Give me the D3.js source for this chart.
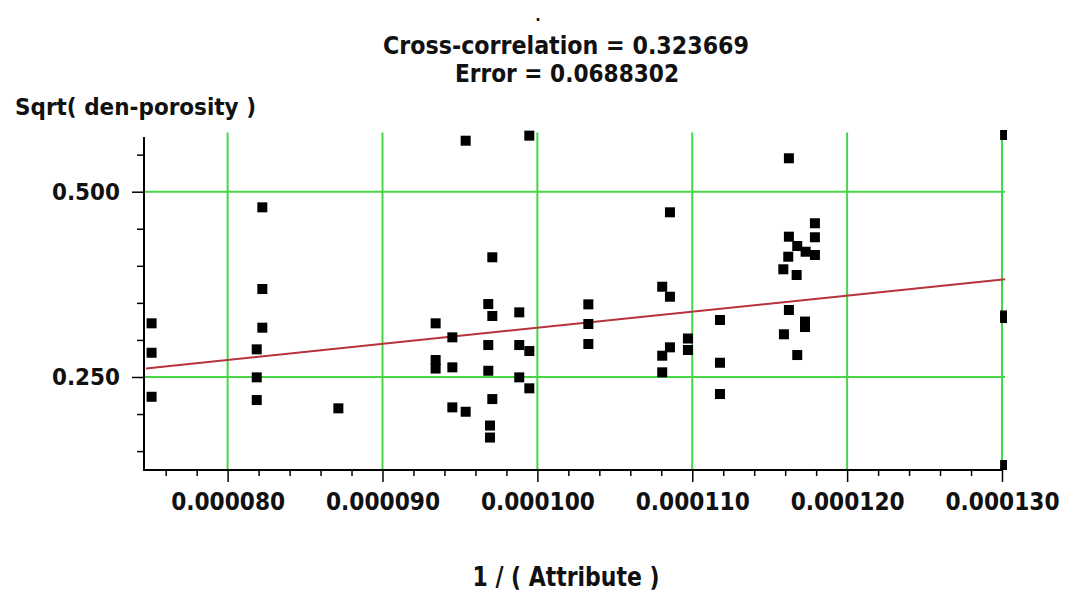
<!DOCTYPE html>
<html>
<head>
<meta charset="utf-8">
<script src="https://cdn.jsdelivr.net/npm/d3@7"></script>
<style>
  html, body { margin: 0; padding: 0; background: #fff; }
  svg { display: block; }
</style>
</head>
<body>
<script>
// ---------- DATA ----------
const titleLines = ["Cross-correlation = 0.323669", "Error = 0.0688302"];
const xAxisTitle = "1 / ( Attribute )";
const yAxisTitle = "Sqrt( den-porosity )";

const xMajorTicks = [0.000080, 0.000090, 0.000100, 0.000110, 0.000120, 0.000130];
const xTickLabels = ["0.000080", "0.000090", "0.000100", "0.000110", "0.000120", "0.000130"];
const xMinorTicks = [0.000076, 0.000078, 0.000082, 0.000084, 0.000086, 0.000088,
  0.000092, 0.000094, 0.000096, 0.000098, 0.000102, 0.000104, 0.000106, 0.000108,
  0.000112, 0.000114, 0.000116, 0.000118, 0.000122, 0.000124, 0.000126, 0.000128];
const yMajorTicks = [0.25, 0.50];
const yTickLabels = ["0.250", "0.500"];
const yMinorTicks = [0.15, 0.20, 0.30, 0.35, 0.40, 0.45, 0.55];

// scatter points: 1/(Attribute) and Sqrt(den-porosity)
const xValues = [
  75.09e-6, 75.09e-6, 75.09e-6,
  81.88e-6, 81.88e-6, 81.88e-6,
  82.24e-6, 82.24e-6, 82.24e-6,
  87.15e-6,
  93.43e-6, 93.43e-6, 93.43e-6,
  94.51e-6, 94.51e-6, 94.51e-6,
  95.37e-6, 95.37e-6,
  96.83e-6, 96.83e-6, 96.83e-6,
  97.09e-6, 97.09e-6, 97.09e-6,
  96.94e-6, 96.94e-6,
  98.83e-6, 98.83e-6, 98.83e-6,
  99.48e-6, 99.48e-6, 99.48e-6,
  103.29e-6, 103.29e-6, 103.29e-6,
  108.06e-6, 108.06e-6, 108.06e-6,
  108.56e-6, 108.56e-6, 108.56e-6,
  109.72e-6, 109.72e-6,
  111.79e-6, 111.79e-6, 111.79e-6,
  116.24e-6, 116.24e-6, 116.24e-6, 116.20e-6,
  117.92e-6, 117.92e-6, 117.92e-6,
  116.78e-6, 116.78e-6,
  117.32e-6, 115.88e-6, 116.74e-6,
  117.28e-6, 117.28e-6, 115.92e-6,
  130.20e-6, 130.20e-6, 130.20e-6, 130.20e-6
];
const yValues = [
  0.3224, 0.2827, 0.2233,
  0.2873, 0.2495, 0.2189,
  0.4789, 0.3687, 0.3165,
  0.2077,
  0.3224, 0.2729, 0.2614,
  0.3035, 0.2630, 0.2090,
  0.2031, 0.5688,
  0.3484, 0.2931, 0.2584,
  0.3323, 0.4115, 0.2202,
  0.1845, 0.1683,
  0.3372, 0.2931, 0.2495,
  0.2850, 0.2347, 0.5756,
  0.3480, 0.3215, 0.2945,
  0.3718, 0.2787, 0.2563,
  0.3583, 0.4722, 0.2900,
  0.3019, 0.2864,
  0.3269, 0.2692, 0.2270,
  0.5451, 0.4393, 0.3404, 0.4123,
  0.4574, 0.4385, 0.4146,
  0.4267, 0.2796,
  0.4190, 0.3953, 0.3876,
  0.3248, 0.3174, 0.3076,
  0.5765, 0.3330, 0.3295, 0.1312
];

// regression line end points
const fitX = [74.6e-6, 130.2e-6];
const fitY = [0.2613, 0.3820];

// ---------- LAYOUT ----------
const W = 1066, H = 591;
const svg = d3.select("body").append("svg").attr("width", W).attr("height", H);

const x = d3.scaleLinear().domain([0.0000746, 0.000130]).range([144, 1002]);
const y = d3.scaleLinear().domain([0.1245, 0.58]).range([470, 132.4]);

const green = "#46d646";
const condensed = "'Liberation Sans Narrow', 'DejaVu Sans Condensed', 'Arial Narrow', sans-serif";

// clip for plot area
svg.append("defs").append("clipPath").attr("id", "plotClip")
  .append("rect").attr("x", 146).attr("y", 130).attr("width", 861).attr("height", 340);

// gridlines
const grid = svg.append("g");
grid.selectAll("line.v").data(xMajorTicks).enter().append("line")
  .attr("x1", d => x(d)).attr("x2", d => x(d))
  .attr("y1", y(0.58)).attr("y2", y(0.1245))
  .attr("stroke", green).attr("stroke-width", 2);
grid.selectAll("line.h").data(yMajorTicks).enter().append("line")
  .attr("x1", x(0.0000746)).attr("x2", x(0.000130) + 3)
  .attr("y1", d => y(d)).attr("y2", d => y(d))
  .attr("stroke", green).attr("stroke-width", 2);

// regression line
svg.append("line")
  .attr("clip-path", "url(#plotClip)")
  .attr("x1", x(fitX[0])).attr("y1", y(fitY[0]))
  .attr("x2", x(fitX[1])).attr("y2", y(fitY[1]))
  .attr("stroke", "#b8323c").attr("stroke-width", 2);

// points
const pts = xValues.map((v, i) => [v, yValues[i]]);
svg.append("g").attr("clip-path", "url(#plotClip)")
  .selectAll("rect").data(pts).enter().append("rect")
  .attr("x", d => x(d[0]) - 5).attr("y", d => y(d[1]) - 5)
  .attr("width", 10).attr("height", 10)
  .attr("fill", "#000");

// ---------- AXES ----------
const xMinorAxis = d3.axisBottom(x).tickValues(xMinorTicks).tickSize(6).tickFormat("");
const xMajorAxis = d3.axisBottom(x).tickValues(xMajorTicks).tickSize(12)
  .tickFormat((d, i) => xTickLabels[i]).tickPadding(10);
const gxm = svg.append("g").attr("transform", "translate(0,470)").call(xMinorAxis);
const gx = svg.append("g").attr("transform", "translate(0,470)").call(xMajorAxis);
[gxm, gx].forEach(g => {
  g.select(".domain").remove();
  g.selectAll(".tick line").attr("stroke", "#000").attr("stroke-width", 1.5);
});
gx.selectAll(".tick text")
  .attr("font-family", condensed).attr("font-weight", "bold").attr("font-size", 24.5)
  .attr("fill", "#111").attr("dy", "0.72em")
  .attr("textLength", 114).attr("lengthAdjust", "spacingAndGlyphs");

const yMinorAxis = d3.axisLeft(y).tickValues(yMinorTicks).tickSize(7).tickFormat("");
const yMajorAxis = d3.axisLeft(y).tickValues(yMajorTicks).tickSize(12)
  .tickFormat((d, i) => yTickLabels[i]).tickPadding(12);
const gym = svg.append("g").attr("transform", "translate(144,0)").call(yMinorAxis);
const gy = svg.append("g").attr("transform", "translate(144,0)").call(yMajorAxis);
[gym, gy].forEach(g => {
  g.select(".domain").remove();
  g.selectAll(".tick line").attr("stroke", "#000").attr("stroke-width", 1.5);
});
gy.selectAll(".tick text")
  .attr("font-family", "'DejaVu Sans', sans-serif").attr("font-weight", "bold").attr("font-size", 23)
  .attr("fill", "#111")
  .attr("textLength", 68).attr("lengthAdjust", "spacingAndGlyphs");

// axis lines
svg.append("line").attr("x1", 144).attr("x2", 144).attr("y1", 137).attr("y2", 471)
  .attr("stroke", "#000").attr("stroke-width", 2);
svg.append("line").attr("x1", 143).attr("x2", 1003).attr("y1", 470).attr("y2", 470)
  .attr("stroke", "#000").attr("stroke-width", 2);

// ---------- TEXT ----------
svg.append("text").attr("x", 538).attr("y", 21).attr("text-anchor", "middle")
  .attr("font-family", condensed).attr("font-weight", "bold").attr("font-size", 16)
  .attr("fill", "#111").text(".");

svg.append("text").attr("x", 566).attr("y", 54).attr("text-anchor", "middle")
  .attr("font-family", condensed).attr("font-weight", "bold").attr("font-size", 24)
  .attr("fill", "#111")
  .attr("textLength", 366).attr("lengthAdjust", "spacingAndGlyphs")
  .text(titleLines[0]);
svg.append("text").attr("x", 567).attr("y", 82).attr("text-anchor", "middle")
  .attr("font-family", condensed).attr("font-weight", "bold").attr("font-size", 24)
  .attr("fill", "#111")
  .attr("textLength", 224).attr("lengthAdjust", "spacingAndGlyphs")
  .text(titleLines[1]);

svg.append("text").attr("x", 15).attr("y", 115)
  .attr("font-family", "'DejaVu Sans', sans-serif").attr("font-weight", "bold").attr("font-size", 23)
  .attr("fill", "#111")
  .attr("textLength", 241).attr("lengthAdjust", "spacingAndGlyphs")
  .text(yAxisTitle);

svg.append("text").attr("x", 566).attr("y", 586).attr("text-anchor", "middle")
  .attr("font-family", condensed).attr("font-weight", "bold").attr("font-size", 27)
  .attr("fill", "#111")
  .attr("textLength", 187).attr("lengthAdjust", "spacingAndGlyphs")
  .text(xAxisTitle);
</script>
</body>
</html>
